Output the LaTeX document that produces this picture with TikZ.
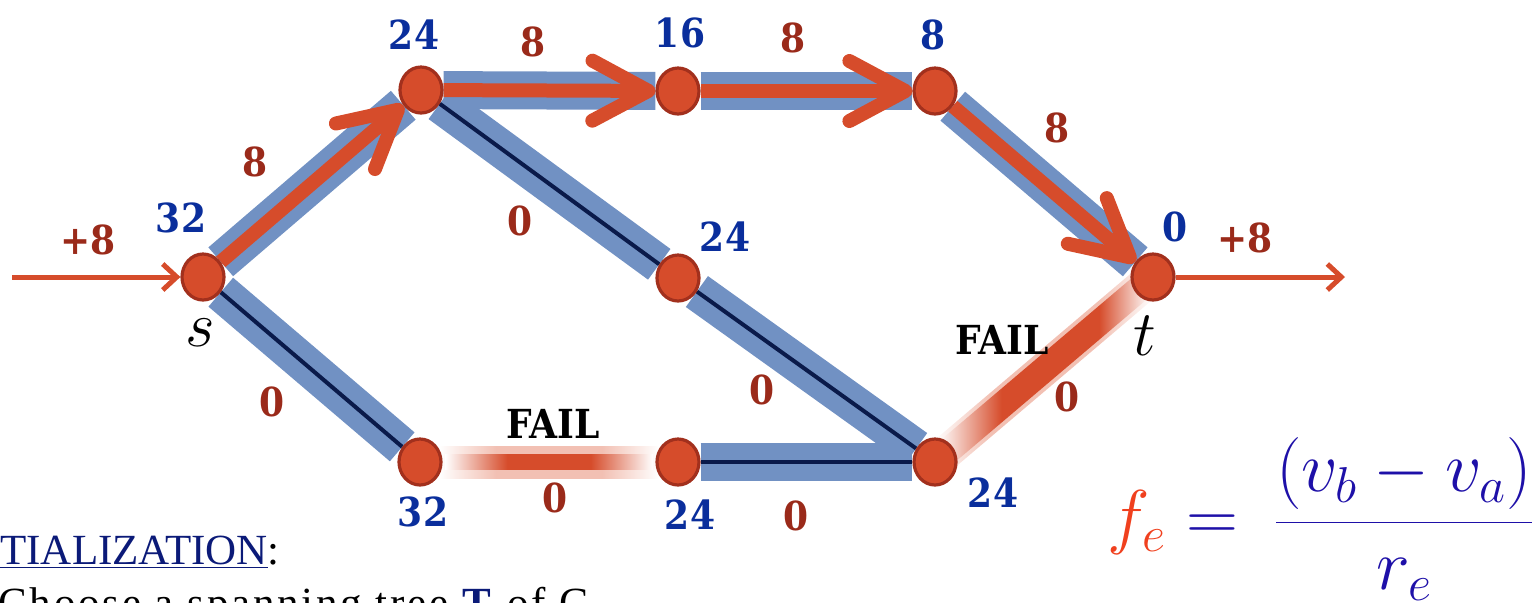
\RequirePackage{fix-cm}
\documentclass[tikz,border=0pt]{standalone}
\usepackage[no-math]{fontspec}
\usetikzlibrary{arrows.meta,shapes.geometric,backgrounds}
\newfontfamily\numfont{DejaVu Serif Condensed}
\newfontfamily\txtfont{Liberation Serif}
\newfontfamily\txtwide{Liberation Serif}[LetterSpace=6.5]
\definecolor{nodered}{HTML}{D64C2B}
\definecolor{nodeedge}{HTML}{A2301D}
\definecolor{barblue}{HTML}{7191C3}
\definecolor{darkline}{HTML}{0A1A4A}
\definecolor{lblred}{HTML}{9A2A1A}
\definecolor{lblblue}{HTML}{0A2E9C}
\definecolor{arrred}{HTML}{D64C2B}
\definecolor{fmblue}{HTML}{1E10A8}
\definecolor{fmred}{HTML}{F0401E}
\definecolor{navytxt}{HTML}{0B1A78}
\definecolor{failpale}{HTML}{F2C0B3}
\pgfdeclarehorizontalshading{failcoreLN}{100bp}{color(0bp)=(white); color(25bp)=(white); color(40bp)=(arrred); color(60bp)=(arrred); color(75bp)=(white); color(100bp)=(white)}
\pgfdeclarehorizontalshading{failpaleLN}{100bp}{color(0bp)=(white); color(25bp)=(white); color(38bp)=(failpale); color(62bp)=(failpale); color(75bp)=(white); color(100bp)=(white)}
\pgfdeclarehorizontalshading{failcoreRt}{100bp}{color(0bp)=(white); color(25bp)=(white); color(40bp)=(arrred); color(63bp)=(arrred); color(75bp)=(white); color(100bp)=(white)}
\tikzset{
  vert/.style={ellipse, minimum width=21pt, minimum height=23pt, inner sep=0pt,
    fill=nodered, draw=nodeedge, line width=1.6pt},
  treebar/.style={draw=barblue, line width=19pt, line cap=butt},
  treecore/.style={draw=darkline, line width=2pt},
  flowarrow/.style={draw=arrred, line width=7pt,
    -{Straight Barb[length=28pt,width=30pt,round]}},
  extarrow/.style={draw=arrred, line width=2.5pt,
    -{Straight Barb[length=7pt,width=13pt]}},
  numlbl/.style={inner sep=0pt, font=\numfont\bfseries\fontsize{20}{24}\selectfont},
  potl/.style={numlbl, text=lblblue},
  flowl/.style={numlbl, text=lblred},
  faill/.style={numlbl, text=black},
  failband/.style={sloped, inner sep=0pt, draw=none},
}
\begin{document}
\begin{tikzpicture}[x=0.5pt,y=-0.5pt]
\useasboundingbox (0,0) rectangle (1536,602);
\clip (0,0) rectangle (1536,602);

% vertices
\node[vert] (s) at (203,277) {};
\node[vert] (A) at (421,90) {};
\node[vert] (B) at (678,91) {};
\node[vert] (C) at (935,91) {};
\node[vert] (t) at (1153,277) {};
\node[vert] (M) at (678,278) {};
\node[vert] (L) at (420,462) {};
\node[vert] (N) at (678,462) {};
\node[vert] (R) at (935,462) {};
\coordinate (inS) at (12,277);
\coordinate (outT) at (1345,277);

\begin{pgfonlayer}{background}
  % spanning tree bars
  \draw[treebar] (s) -- (A);
  \draw[treebar] (A) -- (B);
  \draw[treebar] (B) -- (C);
  \draw[treebar] (C) -- (t);
  \draw[treebar] (A) -- (M);
  \draw[treebar] (M) -- (R);
  \draw[treebar] (s) -- (L);
  \draw[treebar] (N) -- (R);
  % dark cores
  \draw[treecore] (A) -- (M);
  \draw[treecore] (M) -- (R);
  \draw[treecore] (s) -- (L);
  \draw[treecore] (N) -- (R);
  % failed edges
  \path (L) -- (N) node[midway, failband, shading=failpaleLN, minimum width=110pt, minimum height=16pt] (fLN) {};
  \path (L) -- (N) node[midway, failband, shading=failcoreLN, minimum width=104pt, minimum height=7.5pt] (fLNc) {};
  \path (R) -- (t) node[midway, failband, shading=failpaleLN, minimum width=132pt, minimum height=17pt] (fRt) {};
  \path (R) -- (t) node[midway, failband, shading=failcoreRt, minimum width=128pt, minimum height=13pt] (fRtc) {};
  % flow arrows
  \draw[flowarrow] (s) -- (A);
  \draw[flowarrow] (A) -- (B);
  \draw[flowarrow] (B) -- (C);
  \draw[flowarrow] (C) -- (t);
  \draw[extarrow] (inS) -- (s);
  \draw[extarrow] (t) -- (outT);
\end{pgfonlayer}

% potentials
\node[potl] (ps) at (181,218) {32};
\node[potl] (pA) at (414,35) {24};
\node[potl] (pB) at (680,33) {16};
\node[potl] (pC) at (933,35) {8};
\node[potl] (pt) at (1175,227) {0};
\node[potl] (pM) at (725,237) {24};
\node[potl] (pL) at (423,512) {32};
\node[potl] (pN) at (690,515) {24};
\node[potl] (pR) at (993,493) {24};

% flows
\node[flowl] (fin) at (88,240) {+8};
\node[flowl] (fout) at (1245,238) {+8};
\node[flowl] (fsA) at (255,162) {8};
\node[flowl] (fAB) at (533,42) {8};
\node[flowl] (fBC) at (793,38) {8};
\node[flowl] (fCt) at (1057,128) {8};
\node[flowl] (fAM) at (520,221) {0};
\node[flowl] (fsL) at (272,402) {0};
\node[flowl] (fLNl) at (555,498) {0};
\node[flowl] (fNR) at (796,516) {0};
\node[flowl] (fMR) at (762,390) {0};
\node[flowl] (fRtl) at (1067,397) {0};

\node[faill] (fail1) at (553,424) {FAIL};
\node[faill] (fail2) at (1002,340) {FAIL};

% s and t
\node[inner sep=0pt, font=\fontsize{32}{36}\selectfont] (sl) at (200,333) {$s$};
\node[inner sep=0pt, font=\fontsize{32}{36}\selectfont] (tl) at (1145,336) {$t$};

% formula
\node[anchor=west, inner sep=0pt, text=fmblue, font=\fontsize{36}{42}\selectfont] (fm) at (1107,519)
  {$\displaystyle \textcolor{fmred}{f_e} = \mkern4mu\frac{(v_b - v_a)}{r_e}$};

% bottom text
\node[anchor=base west, inner sep=0pt, font=\txtfont\fontsize{21.5}{25}\selectfont] (init) at (0,564)
  {\textcolor{navytxt}{\underline{TIALIZATION}}:};
\node[anchor=base west, inner sep=0pt, font=\txtwide\fontsize{21.5}{25}\selectfont] (choose) at (-2,617)
  {Choose a spanning tree \textcolor{navytxt}{\textbf{T}} of G};
\end{tikzpicture}
\end{document}
